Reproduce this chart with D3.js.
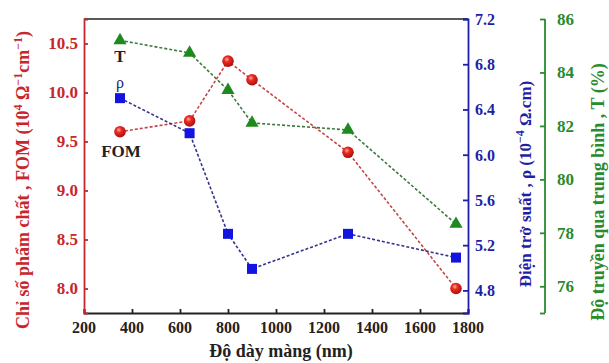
<!DOCTYPE html>
<html>
<head>
<meta charset="utf-8">
<script src="https://cdn.jsdelivr.net/npm/d3@7"></script>
<style>
  body { margin: 0; background: #fff; }
</style>
</head>
<body>
<div id="chart"></div>
<script>
var thickness = [350, 640, 800, 900, 1300, 1750];
var fom = [9.60, 9.71, 10.32, 10.13, 9.39, 8.00];
var rho = [6.50, 6.19, 5.30, 4.99, 5.30, 5.09];
var trans = [85.2, 84.73, 83.34, 82.11, 81.85, 78.33];

var x_ticks = [200, 400, 600, 800, 1000, 1200, 1400, 1600, 1800];
var fom_ticks = [8.0, 8.5, 9.0, 9.5, 10.0, 10.5];
var rho_ticks = [4.8, 5.2, 5.6, 6.0, 6.4, 6.8, 7.2];
var t_ticks = [76, 78, 80, 82, 84, 86];

var width = 609, height = 363;
var red = '#c8262c', blue = '#1f1fa6', green = '#2a8a2e';
var serif = '"Liberation Serif", "Times New Roman", "DejaVu Serif", serif';

var svg = d3.select('#chart')
	.append('svg')
	.attr('width', width)
	.attr('height', height)
	.attr('font-family', serif)
	.attr('font-weight', 'bold');

var x_scale = d3.scaleLinear().domain([200, 1800]).range([84, 468]);
var y_fom = d3.scaleLinear().domain([7.75, 10.75]).range([313, 19]);
var y_rho = d3.scaleLinear().domain([4.6, 7.2]).range([313, 19]);
var y_t = d3.scaleLinear().domain([75, 86]).range([313, 19]);

// gradient for the red balls
var grad = svg.append('defs').append('radialGradient')
	.attr('id', 'ball').attr('cx', '40%').attr('cy', '35%').attr('r', '65%');
grad.append('stop').attr('offset', '0%').attr('stop-color', '#ffb0a8');
grad.append('stop').attr('offset', '35%').attr('stop-color', '#ee2a22');
grad.append('stop').attr('offset', '100%').attr('stop-color', '#a8100c');

// top frame line
svg.append('line')
	.attr('x1', 84).attr('x2', 468).attr('y1', 19).attr('y2', 19)
	.attr('stroke', '#222').attr('stroke-width', 1.5);

// x axis (ticks inward)
var x_axis = svg.append('g')
	.attr('transform', 'translate(0,313)')
	.call(d3.axisTop(x_scale).tickValues(d3.range(300, 1800, 200)).tickSize(2).tickFormat(''));
x_axis.call(d3.axisTop(x_scale).tickValues(x_ticks).tickSize(4).tickFormat(''));
x_axis.selectAll('path, line').attr('stroke', '#222').attr('stroke-width', 1.8);
svg.append('g').selectAll('text')
	.data(x_ticks).enter().append('text')
	.attr('x', function (d) { return x_scale(d); })
	.attr('y', 333)
	.attr('text-anchor', 'middle')
	.attr('font-family', serif)
	.attr('font-size', 16)
	.attr('fill', '#222')
	.text(function (d) { return d; });

// left axis (FOM)
var left = svg.append('g').attr('transform', 'translate(84,0)');
left.call(d3.axisRight(y_fom).tickValues(d3.range(8.25, 10.75, 0.5)).tickSize(3).tickFormat(''));
left.call(d3.axisRight(y_fom).tickValues(fom_ticks).tickSize(4).tickFormat(''));
left.selectAll('path, line').attr('stroke', red).attr('stroke-width', 1.8);
svg.append('g').selectAll('text')
	.data(fom_ticks).enter().append('text')
	.attr('x', 78)
	.attr('y', function (d) { return y_fom(d) + 5; })
	.attr('text-anchor', 'end')
	.attr('font-family', serif)
	.attr('font-size', 17)
	.attr('fill', red)
	.text(function (d) { return d.toFixed(1); });

// right axis (rho)
var right = svg.append('g').attr('transform', 'translate(468,0)');
right.call(d3.axisLeft(y_rho).tickValues(d3.range(5.0, 7.2, 0.4)).tickSize(3).tickFormat(''));
right.call(d3.axisLeft(y_rho).tickValues(rho_ticks).tickSize(5).tickFormat(''));
right.selectAll('path, line').attr('stroke', blue).attr('stroke-width', 1.8);
svg.append('g').selectAll('text')
	.data(rho_ticks).enter().append('text')
	.attr('x', 475)
	.attr('y', function (d) { return y_rho(d) + 6; })
	.attr('font-family', serif)
	.attr('font-size', 16)
	.attr('fill', blue)
	.text(function (d) { return d.toFixed(1); });

// far right axis (T)
var far = svg.append('g').attr('transform', 'translate(545,0)');
far.call(d3.axisLeft(y_t).tickValues(d3.range(77, 86, 2)).tickSize(3).tickFormat(''));
far.call(d3.axisLeft(y_t).tickValues([75].concat(t_ticks)).tickSize(5).tickFormat(''));
far.select('.domain').remove();
far.append('line').attr('x1', 0).attr('x2', 0).attr('y1', 19).attr('y2', 313);
far.selectAll('path, line').attr('stroke', green).attr('stroke-width', 1.8);
svg.append('g').selectAll('text')
	.data(t_ticks).enter().append('text')
	.attr('x', 557)
	.attr('y', function (d) { return y_t(d) + 6; })
	.attr('font-family', serif)
	.attr('font-size', 17)
	.attr('fill', green)
	.text(function (d) { return d; });

// axis titles
var lt = svg.append('text')
	.attr('transform', 'translate(29,180) rotate(-90)')
	.attr('text-anchor', 'middle')
	.attr('font-size', 18)
	.attr('fill', red);
lt.append('tspan').text('Chỉ số phẩm chất , FOM (10');
lt.append('tspan').attr('baseline-shift', 'super').attr('font-size', 12).text('4');
lt.append('tspan').text(' Ω');
lt.append('tspan').attr('baseline-shift', 'super').attr('font-size', 12).text('−1');
lt.append('tspan').text('cm');
lt.append('tspan').attr('baseline-shift', 'super').attr('font-size', 12).text('−1');
lt.append('tspan').text(')');

var rt = svg.append('text')
	.attr('transform', 'translate(531,184) rotate(-90)')
	.attr('text-anchor', 'middle')
	.attr('font-size', 17)
	.attr('fill', blue);
rt.append('tspan').text('Điện trở suất , ρ (10');
rt.append('tspan').attr('baseline-shift', 'super').attr('font-size', 12).text('−4');
rt.append('tspan').text(' Ω.cm)');

svg.append('text')
	.attr('transform', 'translate(604,192) rotate(-90)')
	.attr('text-anchor', 'middle')
	.attr('font-size', 18)
	.attr('fill', green)
	.text('Độ truyền qua trung bình , T (%)');

svg.append('text')
	.attr('x', 281).attr('y', 357)
	.attr('text-anchor', 'middle')
	.attr('font-size', 18)
	.attr('fill', '#222')
	.text('Độ dày màng (nm)');

// series
var pts = thickness.map(function (d, i) {
	return { x: d, fom: fom[i], rho: rho[i], t: trans[i] };
});

function dashed(yfun, key, color) {
	svg.append('path')
		.datum(pts)
		.attr('fill', 'none')
		.attr('stroke', color)
		.attr('stroke-width', 1.6)
		.attr('stroke-dasharray', '3,2')
		.attr('d', d3.line()
			.x(function (d) { return x_scale(d.x); })
			.y(function (d) { return yfun(d[key]); }));
}
dashed(y_t, 't', '#3d7a3d');
dashed(y_fom, 'fom', '#c04848');
dashed(y_rho, 'rho', '#33338f');

svg.selectAll('.tri')
	.data(pts).enter().append('path')
	.attr('class', 'tri')
	.attr('d', d3.symbol(d3.symbolTriangle, 75))
	.attr('transform', function (d) { return 'translate(' + x_scale(d.x) + ',' + y_t(d.t) + ')'; })
	.attr('fill', '#1e8a1e');

svg.selectAll('.sq')
	.data(pts).enter().append('path')
	.attr('class', 'sq')
	.attr('d', d3.symbol(d3.symbolSquare, 100))
	.attr('transform', function (d) { return 'translate(' + x_scale(d.x) + ',' + y_rho(d.rho) + ')'; })
	.attr('fill', '#1414e0');

svg.selectAll('.ball')
	.data(pts).enter().append('circle')
	.attr('class', 'ball')
	.attr('cx', function (d) { return x_scale(d.x); })
	.attr('cy', function (d) { return y_fom(d.fom); })
	.attr('r', 5.8)
	.attr('fill', 'url(#ball)');

// series labels
svg.append('text').attr('x', 120).attr('y', 62).attr('text-anchor', 'middle')
	.attr('font-size', 17).attr('fill', '#222').text('T');
svg.append('text').attr('x', 120).attr('y', 88).attr('text-anchor', 'middle')
	.attr('font-size', 16).attr('font-weight', 'normal').attr('fill', '#1a1a70').text('ρ');
svg.append('text').attr('x', 121).attr('y', 157).attr('text-anchor', 'middle')
	.attr('font-size', 17).attr('fill', '#222').text('FOM');
</script>
</body>
</html>
